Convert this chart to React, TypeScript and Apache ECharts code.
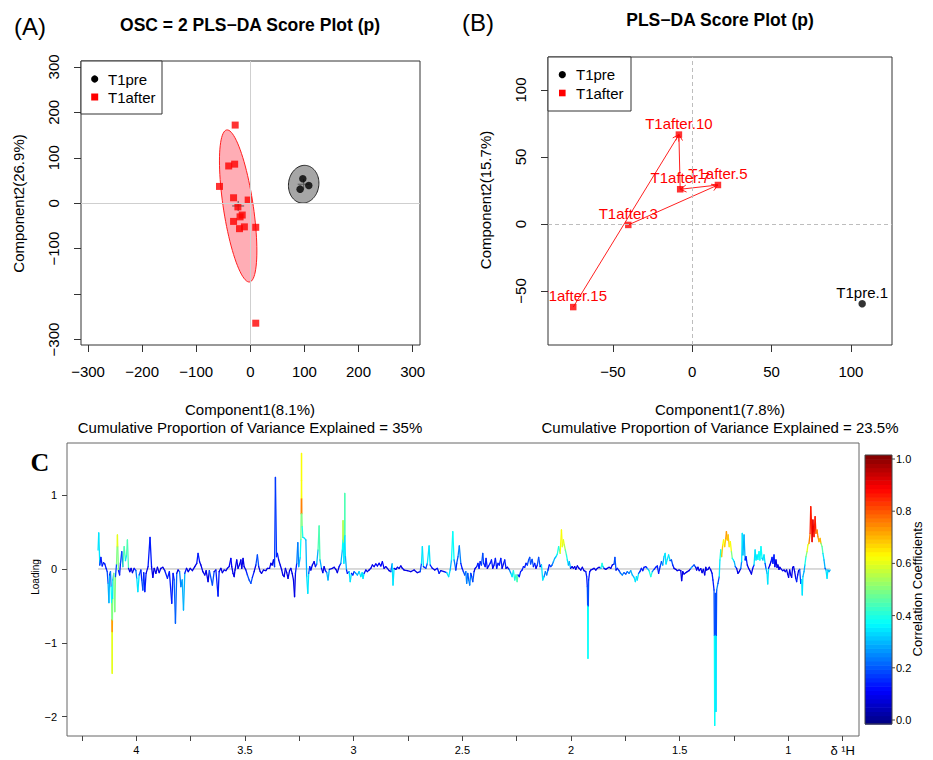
import React, { useEffect, useRef } from "react";
import * as echarts from "echarts";

const SANS = '"Liberation Sans", Arial, Helvetica, sans-serif';
const SERIF = '"Liberation Serif", "Times New Roman", serif';

// ---------------- Panel A : OSC = 2 PLS-DA ----------------
const aTicks = [-300, -200, -100, 0, 100, 200, 300];
const aYLabels = [-300, -100, 0, 100, 200, 300];
const aAfterX = [-28, -40, -29, -57, -31, -4, -23, -15, -19, -31, -20, -11, 10, 10];
const aAfterY = [172, 82, 86, 37, 12, 7, -8, -26, -30, -40, -56, -52, -53, -264];
const aPreX = [97, 108, 92];
const aPreY = [54, 39, 31];
// centre x, centre y, major axis vector (x, y), minor axis vector (x, y)
const aAfterEllipse = [-22.5, -6, -21.2, 167.3, 27.3, 5.0];
const aPreEllipse = [98.6, 41.8, 3, 41.5, 28, -2];

// ---------------- Panel B : PLS-DA ----------------
const bTicks = [-50, 0, 50, 100];
const bAfterNames = ["T1after.10", "T1after.7", "T1after.5", "T1after.3", "T1after.15"];
const bAfterX = [-8.4, -7.6, 16.2, -40.3, -75];
const bAfterY = [66.7, 25.9, 29.1, -0.7, -62];
const bPreNames = ["T1pre.1"];
const bPreX = [107.1];
const bPreY = [-59.5];
const bArrowFrom = [4, 3, 2, 1];
const bArrowTo = [0, 2, 1, 0];

// ---------------- Panel C : loading plot ----------------
const cXTicks = [0.75, 1, 1.25, 1.5, 1.75, 2, 2.25, 2.5, 2.75, 3, 3.25, 3.5, 3.75, 4, 4.25];
const cXLabels = [0.75, 1, 1.5, 2, 2.5, 3, 3.5, 4];
const cYTicks = [-2, -1, 0, 1];
const cbTicks = [0, 0.2, 0.4, 0.6, 0.8, 1.0];

// [ppm, loading, correlation coefficient]
const specSeg1 = [
  [4.176, 0.257, 0.3], [4.173, 0.49, 0.35], [4.168, 0.054, 0.2], [4.163, 0.158, 0.15], [4.157, 0.041, 0.15],
  [4.151, 0.086, 0.15], [4.145, 0.068, 0.15], [4.139, 0.009, 0.15], [4.134, -0.036, 0.15], [4.13, -0.194, 0.2],
  [4.126, -0.456, 0.3], [4.123, -0.081, 0.15], [4.119, -0.036, 0.15], [4.116, -0.239, 0.25], [4.1135, -0.47, 0.38],
  [4.1125, -0.69, 0.5], [4.112, -0.85, 0.72], [4.111, -1.414, 0.6], [4.1105, -0.85, 0.72], [4.11, -0.69, 0.5],
  [4.109, -0.4, 0.35], [4.108, -0.149, 0.3], [4.104, -0.059, 0.2], [4.099, -0.578, 0.5], [4.096, -0.104, 0.2],
  [4.091, 0.068, 0.2], [4.0885, 0.3, 0.5], [4.087, 0.461, 0.6], [4.0855, 0.3, 0.5], [4.082, -0.023, 0.2],
  [4.077, -0.081, 0.15], [4.073, 0.077, 0.2], [4.067, 0.235, 0.2], [4.062, 0.032, 0.2], [4.056, 0.303, 0.45],
  [4.05, 0.113, 0.3], [4.045, 0.19, 0.35], [4.041, 0.393, 0.45], [4.036, 0.009, 0.15], [4.03, -0.036, 0.1],
  [4.024, 0.009, 0.1], [4.018, -0.05, 0.1], [4.01, 0.009, 0.1], [4.002, -0.023, 0.15], [3.998, -0.126, 0.25],
  [3.993, -0.307, 0.35], [3.987, -0.081, 0.2], [3.979, -0.014, 0.15], [3.975, -0.149, 0.15], [3.97, -0.285, 0.2],
  [3.966, -0.05, 0.15], [3.961, -0.307, 0.15], [3.955, -0.059, 0.1], [3.946, 0.032, 0.1], [3.937, 0.429, 0.15],
  [3.93, 0.032, 0.1], [3.924, -0.113, 0.1], [3.918, 0.009, 0.1], [3.91, -0.059, 0.1], [3.903, 0.023, 0.1],
  [3.895, -0.05, 0.1], [3.887, 0.009, 0.1], [3.878, 0.023, 0.1], [3.869, -0.023, 0.1], [3.857, -0.126, 0.15],
  [3.848, -0.036, 0.1], [3.837, -0.465, 0.15], [3.831, -0.059, 0.1], [3.826, -0.149, 0.15], [3.82, -0.736, 0.22],
  [3.814, -0.059, 0.1], [3.808, -0.014, 0.1], [3.801, -0.036, 0.1], [3.795, -0.239, 0.25], [3.789, -0.149, 0.2],
  [3.783, -0.556, 0.3], [3.777, -0.059, 0.15], [3.769, 0.009, 0.1], [3.761, -0.036, 0.1], [3.752, 0.009, 0.1],
  [3.742, -0.023, 0.1], [3.731, 0.032, 0.1], [3.722, 0.077, 0.1], [3.716, 0.212, 0.15], [3.709, 0.099, 0.1],
  [3.703, 0.054, 0.1], [3.694, -0.036, 0.1], [3.685, -0.081, 0.1], [3.679, -0.023, 0.1], [3.67, -0.172, 0.1],
  [3.664, -0.023, 0.1],
];
const specSeg2 = [
  [3.65, -0.217, 0.2], [3.642, -0.036, 0.1], [3.634, -0.014, 0.1], [3.624, -0.366, 0.15], [3.619, -0.036, 0.1],
  [3.611, 0.009, 0.1], [3.604, -0.05, 0.1], [3.596, -0.014, 0.1], [3.588, -0.023, 0.1], [3.581, 0.009, 0.1],
  [3.573, 0.032, 0.1], [3.565, 0.144, 0.12], [3.561, 0.032, 0.1], [3.555, -0.059, 0.1], [3.55, -0.104, 0.1],
  [3.546, -0.014, 0.1], [3.538, 0.122, 0.1], [3.532, 0.009, 0.1], [3.524, 0.068, 0.1], [3.519, 0.122, 0.1],
  [3.515, 0.009, 0.1], [3.509, 0.144, 0.1], [3.504, 0.032, 0.1], [3.496, -0.014, 0.1], [3.489, -0.081, 0.15],
  [3.481, -0.149, 0.2], [3.473, -0.194, 0.2], [3.466, -0.113, 0.15], [3.458, -0.036, 0.1], [3.45, 0.054, 0.1],
  [3.443, 0.19, 0.2], [3.437, 0.032, 0.1], [3.43, -0.036, 0.1], [3.424, -0.059, 0.1], [3.415, -0.014, 0.1],
  [3.404, -0.023, 0.1], [3.397, 0.009, 0.1], [3.387, 0.009, 0.1], [3.381, 0.077, 0.1], [3.375, 0.054, 0.1],
  [3.369, 0.122, 0.1], [3.364, 0.032, 0.1], [3.36, 1.242, 0.18], [3.355, 0.167, 0.15], [3.351, 0.212, 0.15],
  [3.345, 0.122, 0.1], [3.338, 0.054, 0.1], [3.331, -0.014, 0.1], [3.326, -0.081, 0.1], [3.32, -0.104, 0.1],
  [3.314, 0.009, 0.1], [3.308, -0.05, 0.1], [3.302, -0.126, 0.1], [3.295, -0.023, 0.1], [3.289, 0.009, 0.1],
  [3.283, -0.059, 0.1], [3.277, -0.149, 0.1], [3.272, -0.375, 0.1], [3.268, -0.059, 0.1], [3.262, 0.077, 0.15],
  [3.257, 0.357, 0.25], [3.253, 0.032, 0.2], [3.246, 0.158, 0.3], [3.243, 0.4, 0.38], [3.2415, 0.75, 0.5],
  [3.241, 0.95, 0.75], [3.2405, 1.2, 0.62], [3.24, 1.567, 0.62], [3.2395, 1.2, 0.62], [3.239, 0.95, 0.75],
  [3.2385, 0.75, 0.5], [3.237, 0.574, 0.4], [3.234, 0.43, 0.35], [3.226, 0.416, 0.35], [3.22, 0.393, 0.3],
  [3.216, -0.104, 0.3], [3.211, -0.33, 0.35], [3.207, -0.059, 0.2], [3.202, 0.032, 0.15], [3.197, -0.014, 0.1],
  [3.19, 0.054, 0.1], [3.182, 0.099, 0.1], [3.176, 0.032, 0.1], [3.17, 0.068, 0.15], [3.164, 0.257, 0.3],
  [3.159, 0.583, 0.45], [3.155, 0.122, 0.3], [3.148, 0.009, 0.15], [3.142, -0.05, 0.1], [3.136, 0.032, 0.1],
  [3.13, -0.023, 0.1], [3.124, -0.05, 0.15], [3.118, -0.149, 0.3], [3.112, -0.005, 0.15],
];
const specSeg3 = [
  [3.098, 0.009, 0.1], [3.09, 0.023, 0.1], [3.082, -0.005, 0.1], [3.075, -0.05, 0.1], [3.067, 0.032, 0.1],
  [3.059, 0.077, 0.15], [3.052, 0.257, 0.3], [3.05, 0.4, 0.38], [3.049, 0.655, 0.55], [3.047, 0.35, 0.38],
  [3.045, 0.077, 0.3], [3.0415, 0.45, 0.35], [3.041, 1.024, 0.45], [3.0405, 0.45, 0.35], [3.038, 0.167, 0.3],
  [3.033, -0.014, 0.15], [3.029, -0.059, 0.15], [3.021, -0.036, 0.15], [3.016, -0.172, 0.35], [3.01, -0.059, 0.2],
  [3.004, -0.081, 0.15], [2.998, -0.036, 0.15], [2.99, -0.059, 0.25], [2.983, -0.081, 0.3], [2.975, -0.036, 0.2],
  [2.967, -0.104, 0.35], [2.961, -0.05, 0.2], [2.957, -0.126, 0.35], [2.952, -0.059, 0.15], [2.944, -0.014, 0.1],
  [2.937, -0.036, 0.1], [2.929, -0.014, 0.1], [2.921, 0.009, 0.1], [2.914, 0.054, 0.1], [2.906, 0.032, 0.1],
  [2.898, 0.068, 0.12], [2.891, 0.041, 0.1], [2.883, 0.077, 0.12], [2.875, 0.041, 0.1], [2.868, 0.099, 0.12],
  [2.86, 0.009, 0.1], [2.852, 0.032, 0.1], [2.845, 0.009, 0.1], [2.837, -0.023, 0.1], [2.829, -0.036, 0.1],
  [2.823, 0.068, 0.2], [2.819, -0.217, 0.35], [2.814, 0.009, 0.1], [2.806, -0.005, 0.1], [2.799, 0.023, 0.1],
  [2.791, 0.009, 0.1], [2.783, 0.041, 0.1], [2.776, 0.009, 0.1], [2.768, -0.014, 0.1], [2.753, -0.023, 0.1],
  [2.737, -0.036, 0.1], [2.722, -0.014, 0.1], [2.707, -0.05, 0.1], [2.694, -0.036, 0.1], [2.688, 0.077, 0.2],
  [2.684, 0.303, 0.35], [2.679, 0.032, 0.15], [2.668, 0.009, 0.1], [2.661, 0.077, 0.2], [2.653, 0.312, 0.35],
  [2.648, 0.054, 0.15], [2.638, 0.009, 0.1], [2.627, -0.014, 0.1], [2.615, 0.009, 0.1], [2.607, -0.059, 0.15],
  [2.599, -0.023, 0.1], [2.584, -0.036, 0.1], [2.572, -0.05, 0.15], [2.563, -0.104, 0.35], [2.556, -0.014, 0.15],
  [2.55, 0.122, 0.3], [2.544, 0.506, 0.38], [2.538, 0.122, 0.25], [2.53, -0.014, 0.15],
];
const specSeg4 = [
  [2.526, 0.077, 0.15], [2.52, 0.167, 0.2], [2.514, 0.312, 0.25], [2.507, 0.077, 0.15], [2.501, 0.009, 0.1],
  [2.495, -0.036, 0.15], [2.489, -0.081, 0.2], [2.484, -0.036, 0.15], [2.48, -0.194, 0.25], [2.475, -0.059, 0.15],
  [2.471, -0.149, 0.2], [2.466, -0.217, 0.25], [2.461, -0.059, 0.15], [2.457, -0.104, 0.15], [2.452, -0.172, 0.2],
  [2.446, -0.036, 0.1], [2.441, 0.009, 0.1], [2.434, 0.032, 0.1], [2.428, 0.077, 0.15], [2.423, 0.009, 0.1],
  [2.418, 0.099, 0.15], [2.412, 0.054, 0.1], [2.406, 0.212, 0.2], [2.402, 0.077, 0.15], [2.395, 0.032, 0.1],
  [2.391, 0.144, 0.15], [2.385, 0.009, 0.1], [2.379, 0.041, 0.1], [2.372, 0.077, 0.15], [2.366, 0.122, 0.15],
  [2.36, 0.009, 0.1], [2.354, 0.054, 0.1], [2.348, 0.144, 0.15], [2.342, 0.009, 0.1], [2.336, 0.077, 0.15],
  [2.33, 0.054, 0.1], [2.323, 0.144, 0.15], [2.317, 0.009, 0.1], [2.311, 0.068, 0.1], [2.305, 0.122, 0.15],
  [2.299, 0.009, 0.1], [2.293, 0.023, 0.1], [2.285, -0.005, 0.1], [2.277, -0.059, 0.25], [2.271, -0.104, 0.35],
  [2.265, -0.023, 0.25], [2.259, -0.149, 0.4], [2.253, -0.081, 0.3], [2.248, -0.172, 0.45], [2.244, -0.081, 0.2],
  [2.238, -0.104, 0.15], [2.232, -0.036, 0.15], [2.225, -0.014, 0.15], [2.219, 0.032, 0.15], [2.213, 0.023, 0.15],
  [2.207, 0.077, 0.15], [2.201, 0.054, 0.15], [2.195, 0.122, 0.2], [2.19, 0.158, 0.2], [2.186, 0.068, 0.15],
  [2.179, 0.131, 0.2], [2.173, 0.032, 0.1], [2.167, 0.077, 0.15], [2.161, 0.009, 0.1], [2.155, 0.054, 0.1],
  [2.149, 0.158, 0.2], [2.142, 0.032, 0.1], [2.136, 0.054, 0.1], [2.13, -0.149, 0.35], [2.124, -0.104, 0.25],
  [2.118, -0.036, 0.15], [2.112, -0.081, 0.25], [2.106, -0.014, 0.15], [2.1, 0.054, 0.15], [2.093, 0.032, 0.15],
  [2.087, 0.054, 0.2], [2.081, 0.099, 0.25], [2.075, 0.144, 0.3], [2.069, 0.167, 0.3], [2.063, 0.203, 0.35],
  [2.057, 0.303, 0.4], [2.05, 0.212, 0.45], [2.044, 0.528, 0.62], [2.04, 0.303, 0.68], [2.035, 0.393, 0.6],
  [2.031, 0.325, 0.55], [2.026, 0.257, 0.45], [2.021, 0.19, 0.4], [2.017, 0.122, 0.35], [2.012, 0.054, 0.35],
  [2.008, 0.099, 0.3], [2.002, 0.009, 0.15], [1.995, 0.032, 0.1], [1.989, 0.009, 0.1], [1.983, 0.032, 0.1],
];
const specSeg5 = [
  [1.978, -0.005, 0.1], [1.971, 0.041, 0.1], [1.963, 0.009, 0.1], [1.955, -0.014, 0.1], [1.948, 0.023, 0.1],
  [1.94, -0.023, 0.1], [1.932, -0.036, 0.1], [1.928, -0.104, 0.15], [1.925, -0.239, 0.15], [1.9235, -0.5, 0.2],
  [1.922, -1.211, 0.38], [1.9205, -0.5, 0.2], [1.919, -0.149, 0.15], [1.914, -0.036, 0.1], [1.909, -0.014, 0.1],
  [1.902, -0.005, 0.1], [1.894, 0.009, 0.1], [1.886, -0.014, 0.1], [1.879, 0.009, 0.1], [1.871, 0.023, 0.1],
  [1.863, 0.009, 0.3], [1.857, 0.077, 0.4], [1.853, 0.032, 0.3], [1.848, 0.009, 0.1], [1.84, -0.005, 0.1],
  [1.833, 0.009, 0.1], [1.825, 0.023, 0.1], [1.817, 0.009, 0.1], [1.81, 0.054, 0.1], [1.802, 0.068, 0.1],
  [1.798, 0.158, 0.2], [1.793, -0.014, 0.1], [1.787, 0.009, 0.1], [1.779, -0.023, 0.15], [1.772, -0.059, 0.2],
  [1.764, -0.081, 0.25], [1.756, -0.05, 0.2], [1.748, -0.068, 0.2], [1.741, -0.036, 0.2], [1.733, -0.059, 0.25],
  [1.725, -0.023, 0.2], [1.718, -0.081, 0.3], [1.71, -0.113, 0.3], [1.704, -0.172, 0.35], [1.699, -0.104, 0.3],
  [1.695, -0.149, 0.35], [1.689, -0.059, 0.2], [1.683, -0.036, 0.15], [1.676, 0.009, 0.15], [1.67, -0.023, 0.15],
  [1.664, 0.023, 0.15], [1.656, 0.032, 0.15], [1.649, 0.009, 0.15], [1.641, -0.023, 0.3], [1.633, -0.104, 0.4],
  [1.626, -0.036, 0.25], [1.618, -0.005, 0.15], [1.61, 0.023, 0.15], [1.603, 0.041, 0.15], [1.597, -0.059, 0.15],
  [1.59, 0.032, 0.15], [1.584, 0.099, 0.2], [1.578, 0.054, 0.2], [1.572, 0.167, 0.3], [1.567, 0.212, 0.35],
  [1.563, 0.068, 0.3], [1.557, 0.131, 0.35], [1.551, 0.19, 0.35], [1.544, 0.113, 0.3], [1.538, 0.122, 0.2],
  [1.532, 0.054, 0.15], [1.526, 0.009, 0.1], [1.518, -0.005, 0.1], [1.511, -0.023, 0.1], [1.503, -0.014, 0.1],
  [1.495, -0.023, 0.1], [1.491, -0.158, 0.1], [1.486, -0.036, 0.1], [1.48, -0.068, 0.1], [1.472, -0.05, 0.1],
  [1.465, -0.036, 0.1], [1.457, -0.023, 0.1], [1.449, 0.009, 0.15], [1.442, 0.032, 0.3], [1.434, 0.054, 0.2],
];
const specSeg6 = [
  [1.426, 0.023, 0.1], [1.422, -0.014, 0.1], [1.416, 0.023, 0.1], [1.41, -0.023, 0.1], [1.403, 0.005, 0.1],
  [1.397, -0.05, 0.1], [1.391, -0.005, 0.1], [1.385, -0.081, 0.1], [1.38, 0.023, 0.1], [1.376, -0.014, 0.1],
  [1.37, -0.005, 0.1], [1.364, 0.023, 0.1], [1.357, -0.014, 0.1], [1.351, -0.059, 0.1], [1.347, -0.149, 0.15],
  [1.342, -0.285, 0.15], [1.3405, -0.9, 0.2], [1.339, -2.12, 0.38], [1.3375, -0.9, 0.2], [1.336, -0.33, 0.2],
  [1.3345, -0.9, 0.2], [1.333, -1.93, 0.35], [1.3315, -0.9, 0.2], [1.33, -0.285, 0.25], [1.324, -0.194, 0.2],
  [1.318, -0.104, 0.25], [1.315, 0.122, 0.35], [1.311, 0.257, 0.4], [1.307, 0.167, 0.45], [1.302, 0.325, 0.68],
  [1.298, 0.393, 0.62], [1.293, 0.303, 0.65], [1.288, 0.415, 0.68], [1.285, 0.506, 0.72], [1.281, 0.393, 0.7],
  [1.277, 0.461, 0.68], [1.272, 0.303, 0.6], [1.267, 0.371, 0.62], [1.262, 0.235, 0.5], [1.258, 0.145, 0.38],
  [1.253, 0.122, 0.35], [1.249, 0.099, 0.3], [1.244, 0.032, 0.2], [1.238, 0.009, 0.1], [1.232, -0.059, 0.1],
  [1.226, -0.036, 0.1], [1.219, 0.009, 0.1], [1.215, 0.099, 0.25], [1.212, 0.483, 0.35], [1.209, 0.19, 0.25],
  [1.204, 0.461, 0.3], [1.199, 0.122, 0.2], [1.195, 0.167, 0.15], [1.189, 0.054, 0.1], [1.183, 0.009, 0.1],
  [1.177, -0.023, 0.1], [1.17, -0.068, 0.1], [1.164, 0.009, 0.1], [1.158, 0.054, 0.15], [1.153, 0.257, 0.35],
  [1.149, 0.122, 0.3], [1.144, 0.19, 0.35], [1.14, 0.131, 0.3], [1.135, 0.235, 0.38], [1.131, 0.122, 0.3],
  [1.126, 0.303, 0.38], [1.121, 0.145, 0.3], [1.117, 0.122, 0.3], [1.112, 0.19, 0.35], [1.107, 0.077, 0.2],
  [1.103, 0.009, 0.15], [1.098, -0.059, 0.3], [1.095, -0.203, 0.35], [1.091, 0.009, 0.15], [1.085, 0.054, 0.1],
  [1.08, 0.099, 0.1], [1.075, 0.158, 0.15], [1.071, 0.077, 0.1], [1.066, 0.19, 0.15], [1.062, 0.032, 0.1],
  [1.057, 0.122, 0.1], [1.052, 0.023, 0.1], [1.048, 0.054, 0.1], [1.043, -0.005, 0.1], [1.039, 0.023, 0.1],
  [1.032, -0.005, 0.1], [1.026, -0.023, 0.1], [1.02, -0.014, 0.1], [1.014, -0.036, 0.1], [1.008, -0.014, 0.1],
  [1.003, -0.068, 0.1], [0.999, -0.113, 0.1], [0.994, -0.014, 0.1], [0.989, -0.081, 0.1], [0.985, -0.113, 0.1],
  [0.98, 0.023, 0.1], [0.976, 0.032, 0.1], [0.971, -0.036, 0.1], [0.966, -0.126, 0.1], [0.962, -0.172, 0.15],
  [0.957, -0.081, 0.1], [0.953, -0.023, 0.1], [0.948, -0.005, 0.1], [0.943, -0.194, 0.2], [0.939, -0.149, 0.25],
  [0.936, -0.352, 0.35], [0.933, -0.104, 0.3], [0.928, -0.036, 0.25], [0.924, 0.054, 0.3], [0.919, 0.167, 0.4],
  [0.914, 0.235, 0.5], [0.91, 0.325, 0.6], [0.905, 0.348, 0.6], [0.9, 0.483, 0.75], [0.897, 0.845, 0.85],
  [0.894, 0.664, 0.85], [0.891, 0.371, 0.85], [0.887, 0.664, 0.9], [0.882, 0.438, 0.85], [0.877, 0.709, 0.85],
  [0.873, 0.483, 0.8], [0.868, 0.528, 0.75], [0.864, 0.438, 0.72], [0.859, 0.371, 0.72], [0.854, 0.415, 0.7],
  [0.85, 0.348, 0.5], [0.845, 0.303, 0.45], [0.841, 0.212, 0.35], [0.836, 0.122, 0.3], [0.831, 0.009, 0.2],
  [0.827, -0.014, 0.2], [0.822, -0.126, 0.35], [0.818, -0.014, 0.3], [0.813, -0.036, 0.3], [0.808, -0.014, 0.2],
];

// ---------------- helpers ----------------
function jet(c: number): string {
  const cl = (v: number) => Math.max(0, Math.min(1, v));
  const r = cl(1.5 - Math.abs(4 * c - 3));
  const g = cl(1.5 - Math.abs(4 * c - 2));
  const b = cl(1.5 - Math.abs(4 * c - 1));
  return `rgb(${Math.round(r * 255)},${Math.round(g * 255)},${Math.round(b * 255)})`;
}
const minus = (v: number) => String(v).replace("-", "\u2212");

function txt(text: string, x: number, y: number, o: any = {}) {
  const align = o.align || "center";
  return {
    type: "text",
    x,
    y,
    rotation: o.rot || 0,
    z: 100,
    style: {
      text,
      fill: o.color || "#000",
      font: `${o.weight || "normal"} ${o.size || 15}px ${o.family || SANS}`,
      align,
      verticalAlign: "middle",
      textAlign: align,
      textVerticalAlign: "middle",
    },
  };
}

function buildOption() {
  const spectrum = [...specSeg1, ...specSeg2, ...specSeg3, ...specSeg4, ...specSeg5, ...specSeg6];
  const segs: number[][] = [];
  for (let i = 0; i < spectrum.length - 1; i++) {
    const a = spectrum[i];
    const b = spectrum[i + 1];
    const c = Math.abs(a[1]) >= Math.abs(b[1]) ? a[2] : b[2];
    segs.push([a[0], a[1], b[0], b[1], c]);
  }

  const graphics: any[] = [];
  graphics.push(txt("(A)", 14, 26, { size: 24, align: "left" }));
  graphics.push(txt("OSC = 2 PLS\u2212DA Score Plot (p)", 250, 25, { size: 17.5, weight: "bold" }));
  graphics.push(txt("(B)", 462, 22, { size: 24, align: "left" }));
  graphics.push(txt("PLS\u2212DA Score Plot (p)", 720, 20, { size: 17.5, weight: "bold" }));
  graphics.push(txt("Component1(8.1%)", 250, 409.5, { size: 15 }));
  graphics.push(txt("Cumulative Proportion of Variance Explained = 35%", 250, 427, { size: 15 }));
  graphics.push(txt("Component2(26.9%)", 18.5, 203.5, { size: 15, rot: Math.PI / 2 }));
  graphics.push(txt("Component1(7.8%)", 720, 409.5, { size: 15 }));
  graphics.push(txt("Cumulative Proportion of Variance Explained = 23.5%", 720, 427, { size: 15 }));
  graphics.push(txt("Component2(15.7%)", 485, 200, { size: 15, rot: Math.PI / 2 }));
  // legends
  graphics.push({ type: "rect", z: 90, shape: { x: 81, y: 61, width: 81, height: 53 }, style: { fill: "#fff", stroke: "#333", lineWidth: 1 } });
  graphics.push({ type: "circle", z: 100, shape: { cx: 94.7, cy: 79, r: 3.6 }, style: { fill: "#000" } });
  graphics.push({ type: "rect", z: 100, shape: { x: 91.2, y: 93.5, width: 7, height: 7 }, style: { fill: "#ff0000" } });
  graphics.push(txt("T1pre", 108, 79, { align: "left" }));
  graphics.push(txt("T1after", 108, 97, { align: "left" }));
  graphics.push({ type: "rect", z: 90, shape: { x: 548, y: 57, width: 83, height: 54 }, style: { fill: "#fff", stroke: "#333", lineWidth: 1 } });
  graphics.push({ type: "circle", z: 100, shape: { cx: 562.3, cy: 74.7, r: 3.6 }, style: { fill: "#000" } });
  graphics.push({ type: "rect", z: 100, shape: { x: 559, y: 89.7, width: 6.6, height: 6.6 }, style: { fill: "#ff0000" } });
  graphics.push(txt("T1pre", 576, 74.7, { align: "left" }));
  graphics.push(txt("T1after", 576, 93, { align: "left" }));
  // panel C decorations
  graphics.push(txt("C", 40, 462, { size: 26, weight: "bold", family: SERIF }));
  graphics.push(txt("Loading", 35, 577, { size: 10, rot: Math.PI / 2 }));
  // colour bar
  const cbTop = 455, cbBot = 724, cbX = 865, cbW = 27, nBands = 64;
  const bandH = (cbBot - cbTop) / nBands;
  for (let k = 0; k < nBands; k++) {
    graphics.push({
      type: "rect",
      z: 80,
      shape: { x: cbX, y: cbBot - (k + 1) * bandH, width: cbW, height: bandH + 0.6 },
      style: { fill: jet((k + 0.5) / nBands) },
    });
  }
  graphics.push({ type: "rect", z: 85, shape: { x: cbX, y: cbTop, width: cbW, height: cbBot - cbTop }, style: { fill: "none", stroke: "#444", lineWidth: 1 } });
  cbTicks.forEach((v) => {
    const y = 720 - v * 261;
    graphics.push({ type: "line", z: 85, shape: { x1: cbX + cbW, y1: y, x2: cbX + cbW + 3, y2: y }, style: { stroke: "#444", lineWidth: 1 } });
    graphics.push(txt(v.toFixed(1), 896, y, { size: 11, align: "left" }));
  });
  graphics.push(txt("Correlation Coefficients", 917, 589, { size: 13, rot: Math.PI / 2 }));

  const axisFont = { fontFamily: SANS, color: "#000" };
  const noLine = { show: false, onZero: false };

  return {
    animation: false,
    backgroundColor: "#fff",
    grid: [
      { left: 81, top: 61, width: 339, height: 284, show: true, borderColor: "#333", borderWidth: 1, backgroundColor: "transparent" },
      { left: 548, top: 57, width: 344, height: 288, show: true, borderColor: "#333", borderWidth: 1, backgroundColor: "transparent" },
      { left: 67, top: 443, width: 792, height: 293, show: true, borderColor: "#666", borderWidth: 1, backgroundColor: "transparent" },
    ],
    xAxis: [
      {
        gridIndex: 0, type: "value", min: -313, max: 313.6, position: "bottom",
        axisLine: noLine, splitLine: { show: false },
        axisTick: { show: true, length: 7, lineStyle: { color: "#333" }, customValues: aTicks },
        axisLabel: { ...axisFont, fontSize: 15, margin: 19, customValues: aTicks, formatter: minus },
      },
      {
        gridIndex: 1, type: "value", min: -90.9, max: 125.9, position: "bottom",
        axisLine: noLine, splitLine: { show: false },
        axisTick: { show: true, length: 7, lineStyle: { color: "#333" }, customValues: bTicks },
        axisLabel: { ...axisFont, fontSize: 15, margin: 19, customValues: bTicks, formatter: minus },
      },
      {
        gridIndex: 2, type: "value", min: 0.675, max: 4.319, inverse: true, position: "bottom",
        axisLine: noLine, splitLine: { show: false },
        axisTick: { show: true, length: 5, lineStyle: { color: "#444" }, customValues: cXTicks },
        axisLabel: {
          ...axisFont, fontSize: 11, margin: 8, customValues: cXLabels,
          formatter: (v: number) => (Math.abs(v - 0.75) < 1e-6 ? "{d|\u03b4 \u00b9H}" : String(v)),
          rich: { d: { fontSize: 13, fontFamily: SANS, color: "#000" } },
        },
      },
    ],
    yAxis: [
      {
        gridIndex: 0, type: "value", min: -312, max: 313, position: "left",
        axisLine: noLine, splitLine: { show: false },
        axisTick: { show: true, length: 7, lineStyle: { color: "#333" }, customValues: aTicks },
        axisLabel: { ...axisFont, fontSize: 15, margin: 20, rotate: 90, customValues: aYLabels, formatter: minus },
      },
      {
        gridIndex: 1, type: "value", min: -90.3, max: 124.6, position: "left",
        axisLine: noLine, splitLine: { show: false },
        axisTick: { show: true, length: 7, lineStyle: { color: "#333" }, customValues: bTicks },
        axisLabel: { ...axisFont, fontSize: 15, margin: 20, rotate: 90, customValues: bTicks, formatter: minus },
      },
      {
        gridIndex: 2, type: "value", min: -2.263, max: 1.707, position: "left",
        axisLine: noLine, splitLine: { show: false },
        axisTick: { show: true, length: 5, lineStyle: { color: "#444" }, customValues: cYTicks },
        axisLabel: { ...axisFont, fontSize: 11, margin: 10, customValues: cYTicks, formatter: minus },
      },
    ],
    graphic: { elements: graphics },
    series: [
      // ---- A ----
      {
        type: "scatter", xAxisIndex: 0, yAxisIndex: 0, data: [], z: 1, silent: true,
        markLine: {
          silent: true, symbol: ["none", "none"], label: { show: false },
          lineStyle: { color: "#cfcfcf", type: "solid", width: 1 },
          data: [{ xAxis: 0 }, { yAxis: 0 }],
        },
      },
      {
        type: "custom", xAxisIndex: 0, yAxisIndex: 0, z: 2, silent: true,
        data: [[...aAfterEllipse, 0], [...aPreEllipse, 1]],
        encode: { x: 0, y: 1 },
        renderItem: (params: any, api: any) => {
          const cx = api.value(0), cy = api.value(1);
          const ux = api.value(2), uy = api.value(3), vx = api.value(4), vy = api.value(5);
          const kind = api.value(6);
          const pts: number[][] = [];
          for (let k = 0; k <= 90; k++) {
            const t = (k / 90) * Math.PI * 2;
            pts.push(api.coord([cx + ux * Math.cos(t) + vx * Math.sin(t), cy + uy * Math.cos(t) + vy * Math.sin(t)]));
          }
          const c = api.coord([cx, cy]);
          return {
            type: "group",
            children: [
              {
                type: "polygon", shape: { points: pts },
                style: kind === 0
                  ? { fill: "rgba(255,40,60,0.38)", stroke: "#ff2020", lineWidth: 1 }
                  : { fill: "#a6a6a6", stroke: "#222", lineWidth: 1 },
              },
              { type: "line", shape: { x1: c[0] - 6, y1: c[1], x2: c[0] + 6, y2: c[1] }, style: { stroke: "#555", lineWidth: 1 } },
              { type: "line", shape: { x1: c[0], y1: c[1] - 5, x2: c[0], y2: c[1] + 5 }, style: { stroke: "#555", lineWidth: 1 } },
            ],
          };
        },
      },
      {
        type: "scatter", name: "T1after", xAxisIndex: 0, yAxisIndex: 0, z: 3, symbol: "rect", symbolSize: 7,
        itemStyle: { color: "#ff0000" }, data: aAfterX.map((x, i) => [x, aAfterY[i]]),
      },
      {
        type: "scatter", name: "T1pre", xAxisIndex: 0, yAxisIndex: 0, z: 3, symbol: "circle", symbolSize: 7.5,
        itemStyle: { color: "#000" }, data: aPreX.map((x, i) => [x, aPreY[i]]),
      },
      // ---- B ----
      {
        type: "scatter", xAxisIndex: 1, yAxisIndex: 1, data: [], z: 1, silent: true,
        markLine: {
          silent: true, symbol: ["none", "none"], label: { show: false },
          lineStyle: { color: "#bdbdbd", type: [4, 3], width: 1 },
          data: [{ xAxis: 0 }, { yAxis: 0 }],
        },
      },
      {
        type: "custom", xAxisIndex: 1, yAxisIndex: 1, z: 2, silent: true,
        data: bArrowFrom.map((f, i) => [bAfterX[f], bAfterY[f], bAfterX[bArrowTo[i]], bAfterY[bArrowTo[i]]]),
        encode: { x: [0, 2], y: [1, 3] },
        renderItem: (params: any, api: any) => {
          const p1 = api.coord([api.value(0), api.value(1)]);
          const p2 = api.coord([api.value(2), api.value(3)]);
          const ang = Math.atan2(p2[1] - p1[1], p2[0] - p1[0]);
          const L = 7, w = Math.PI / 6;
          const h1 = [p2[0] - L * Math.cos(ang - w), p2[1] - L * Math.sin(ang - w)];
          const h2 = [p2[0] - L * Math.cos(ang + w), p2[1] - L * Math.sin(ang + w)];
          return {
            type: "group",
            children: [
              { type: "line", shape: { x1: p1[0], y1: p1[1], x2: p2[0], y2: p2[1] }, style: { stroke: "#ff2020", lineWidth: 1 } },
              { type: "polyline", shape: { points: [h1, p2, h2] }, style: { stroke: "#ff2020", lineWidth: 1, fill: "none" } },
            ],
          };
        },
      },
      {
        type: "scatter", xAxisIndex: 1, yAxisIndex: 1, z: 3, symbol: "rect", symbolSize: 6.5,
        itemStyle: { color: "#ff0000" }, data: bAfterX.map((x, i) => [x, bAfterY[i]]),
      },
      {
        type: "scatter", xAxisIndex: 1, yAxisIndex: 1, z: 3, symbol: "circle", symbolSize: 7.5,
        itemStyle: { color: "#000" }, data: bPreX.map((x, i) => [x, bPreY[i]]),
      },
      {
        type: "custom", xAxisIndex: 1, yAxisIndex: 1, z: 4, silent: true, clip: true,
        data: [...bAfterX.map((x, i) => [x, bAfterY[i]]), ...bPreX.map((x, i) => [x, bPreY[i]])],
        encode: { x: 0, y: 1 },
        renderItem: (params: any, api: any) => {
          const p = api.coord([api.value(0), api.value(1)]);
          const idx = params.dataIndex;
          const isAfter = idx < bAfterNames.length;
          const name = isAfter ? bAfterNames[idx] : bPreNames[idx - bAfterNames.length];
          return {
            type: "text",
            x: p[0],
            y: p[1] - 4,
            style: {
              text: name, fill: isAfter ? "#ff0000" : "#000", font: `15px ${SANS}`,
              align: "center", verticalAlign: "bottom", textAlign: "center", textVerticalAlign: "bottom",
            },
          };
        },
      },
      // ---- C ----
      {
        type: "line", xAxisIndex: 2, yAxisIndex: 2, z: 1, silent: true, symbol: "none",
        lineStyle: { color: "#b5b5b5", width: 1 },
        data: [[spectrum[0][0], 0], [spectrum[spectrum.length - 1][0], 0]],
      },
      {
        type: "custom", xAxisIndex: 2, yAxisIndex: 2, z: 2, silent: true,
        data: segs,
        encode: { x: [0, 2], y: [1, 3] },
        renderItem: (params: any, api: any) => {
          const p1 = api.coord([api.value(0), api.value(1)]);
          const p2 = api.coord([api.value(2), api.value(3)]);
          return {
            type: "line",
            shape: { x1: p1[0], y1: p1[1], x2: p2[0], y2: p2[1] },
            style: { stroke: jet(api.value(4)), lineWidth: 1.3, lineCap: "round" },
          };
        },
      },
    ],
  };
}

export default function App() {
  const ref = useRef<HTMLDivElement>(null);
  useEffect(() => {
    if (!ref.current) return;
    const chart = echarts.init(ref.current, undefined, { renderer: "svg" });
    chart.setOption(buildOption() as any);
    return () => chart.dispose();
  }, []);
  return (
    <div
      ref={ref}
      style={{ position: "absolute", left: 0, top: 0, width: 933, height: 760, background: "#fff" }}
    />
  );
}
